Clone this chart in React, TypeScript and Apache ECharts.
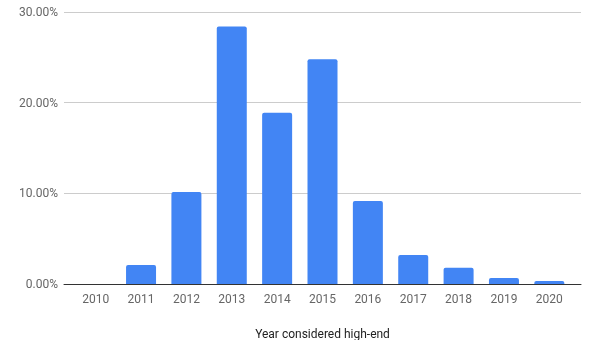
import React, { useEffect, useRef } from "react";
import * as echarts from "echarts";

const years = ["2010", "2011", "2012", "2013", "2014", "2015", "2016", "2017", "2018", "2019", "2020"];
const shares = [0, 0.021, 0.1014, 0.284, 0.189, 0.248, 0.0915, 0.032, 0.018, 0.0066, 0.0033];
const yTicks = { min: 0, max: 0.3, interval: 0.1 };
const xTitle = "Year considered high-end";

export default function App() {
  const ref = useRef<HTMLDivElement>(null);
  useEffect(() => {
    const chart = echarts.init(ref.current!, null, { renderer: "svg" });
    const font = "Roboto, Arial, sans-serif";
    chart.setOption({
      animation: false,
      textStyle: { fontFamily: font },
      grid: [
        { left: 64, right: 19, top: 12, bottom: 56, outerBoundsMode: "none", containLabel: false },
        { left: 73, right: 28, top: 12, bottom: 56, outerBoundsMode: "none", containLabel: false },
      ],
      xAxis: [
        {
          gridIndex: 0,
          type: "value",
          min: 0,
          max: 1,
          axisLine: { show: true, onZero: false, lineStyle: { color: "#333", width: 1 } },
          axisTick: { show: false },
          axisLabel: { show: false },
          splitLine: { show: false },
        },
        {
          gridIndex: 1,
          type: "category",
          data: years,
          axisLine: { show: false },
          axisTick: { show: false },
          axisLabel: { color: "#666", fontSize: 12, margin: 9, fontFamily: font },
          name: xTitle,
          nameLocation: "middle",
          nameGap: 44,
          nameTextStyle: { color: "#222", fontSize: 12, fontFamily: font },
        },
      ],
      yAxis: [
        {
          gridIndex: 0,
          type: "value",
          min: yTicks.min,
          max: yTicks.max,
          interval: yTicks.interval,
          axisLine: { show: false },
          axisTick: { show: false },
          axisLabel: {
            color: "#666",
            fontSize: 12,
            margin: 6,
            fontFamily: font,
            formatter: (v: number) => (v * 100).toFixed(2) + "%",
          },
          splitLine: { lineStyle: { color: "#ccc", width: 1 } },
        },
        {
          gridIndex: 1,
          type: "value",
          min: yTicks.min,
          max: yTicks.max,
          show: false,
          splitLine: { show: false },
        },
      ],
      series: [
        {
          type: "bar",
          xAxisIndex: 1,
          yAxisIndex: 1,
          data: shares,
          barWidth: 30,
          itemStyle: { color: "#4285F4", borderRadius: [2, 2, 0, 0] },
        },
      ],
    });
    return () => chart.dispose();
  }, []);
  return <div ref={ref} style={{ position: "fixed", left: 0, top: 0, width: 600, height: 340 }} />;
}
